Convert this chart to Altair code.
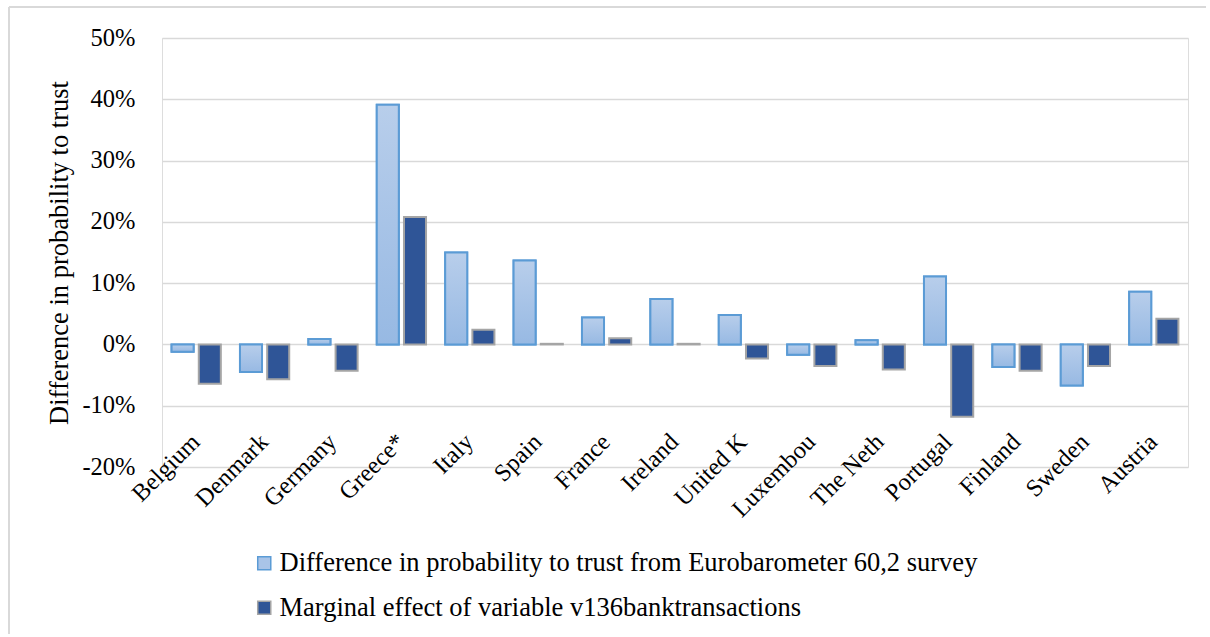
import altair as alt
import pandas as pd

countries = ["Belgium", "Denmark", "Germany", "Greece*", "Italy", "Spain", "France",
             "Ireland", "United K", "Luxembou", "The Neth", "Portugal", "Finland",
             "Sweden", "Austria"]
survey_diff = [-1.2, -4.5, 0.9, 39.1, 15.0, 13.7, 4.4, 7.4, 4.8, -1.7, 0.7, 11.1, -3.7, -6.7, 8.6]
marginal_eff = [-6.4, -5.7, -4.3, 20.8, 2.4, 0.1, 1.0, 0.1, -2.3, -3.5, -4.1, -11.8, -4.3, -3.5, 4.2]
series_names = ["Difference in probability to trust from Eurobarometer 60,2 survey",
                "Marginal effect of variable v136banktransactions"]
y_ticks = [-0.2, -0.1, 0.0, 0.1, 0.2, 0.3, 0.4, 0.5]

rows = []
for c, a, b in zip(countries, survey_diff, marginal_eff):
    rows.append({"country": c, "series": series_names[0], "value": a / 100})
    rows.append({"country": c, "series": series_names[1], "value": b / 100})
df = pd.DataFrame(rows)

FONT = "Liberation Serif"
W, H = 1026, 429

x_enc = alt.X("country:N", sort=countries, title=None,
              scale=alt.Scale(paddingInner=0.28, paddingOuter=0.14),
              axis=alt.Axis(labelAngle=-45, labelAlign="right", labelBaseline="middle",
                            labelPadding=-29, labelFontSize=24.5, labelFont=FONT,
                            labelColor="#000000", domain=False, ticks=False, grid=False))
xo_enc = alt.XOffset("series:N", sort=series_names, scale=alt.Scale(paddingInner=0.19))
y_enc = alt.Y("value:Q", title="Difference in probability to trust",
              scale=alt.Scale(domain=[-0.2, 0.5], nice=False, zero=False),
              axis=alt.Axis(values=y_ticks, labelExpr="toString(round(datum.value*100)) + '%'",
                            labelFontSize=24.5, labelFont=FONT, labelColor="#000000",
                            labelPadding=27, titleFontSize=26.5, titleFont=FONT,
                            titleFontWeight="normal", titleColor="#000000", titlePadding=8,
                            domain=False, ticks=False, grid=True, gridColor="#D9D9D9",
                            gridWidth=1.5))

legend = alt.Legend(title=None, orient="none", legendX=89, legendY=512, direction="vertical",
                    symbolType="square", symbolSize=170, symbolStrokeWidth=1.5,
                    labelFontSize=26.5, labelFont=FONT, labelColor="#000000",
                    labelOffset=2, rowPadding=17.5, labelLimit=1000)

bars = alt.Chart(df).mark_bar(strokeWidth=2).encode(
    x=x_enc, xOffset=xo_enc, y=y_enc,
    fill=alt.Fill("series:N", sort=series_names, legend=legend,
                  scale=alt.Scale(domain=series_names, range=["#A9C4E8", "#2F5597"])),
    stroke=alt.Stroke("series:N", sort=series_names, legend=legend,
                      scale=alt.Scale(domain=series_names, range=["#5B9BD5", "#A5A5A5"])),
)

# light series redrawn with a soft vertical gradient fill
gradient = alt.LinearGradient(
    gradient="linear", x1=0, y1=0, x2=0, y2=1,
    stops=[alt.GradientStop(color="#B8CEEB", offset=0),
           alt.GradientStop(color="#97B9E3", offset=1)])
light = alt.Chart(df).transform_filter(
    alt.datum.series == series_names[0]
).mark_bar(fill=gradient, stroke="#5B9BD5", strokeWidth=2).encode(
    x=x_enc, xOffset=xo_enc, y=y_enc)

# chart frame: only its top and left edges fall inside the page
one = pd.DataFrame({"k": [0]})
frame_top = alt.Chart(one).mark_rule(stroke="#D9D9D9", strokeWidth=2).encode(
    x=alt.value(-153), x2=alt.value(1044), y=alt.value(-31))
frame_left = alt.Chart(one).mark_rule(stroke="#D9D9D9", strokeWidth=2).encode(
    x=alt.value(-153), y=alt.value(-31), y2=alt.value(596))

chart = alt.layer(frame_top, frame_left, bars, light).properties(
    width=W, height=H, padding={"left": 8, "top": 6, "right": 0, "bottom": 0}
).configure_view(stroke=None).configure(background="#FFFFFF")

chart.save("out.html", embed_options={"renderer": "svg", "actions": False})
